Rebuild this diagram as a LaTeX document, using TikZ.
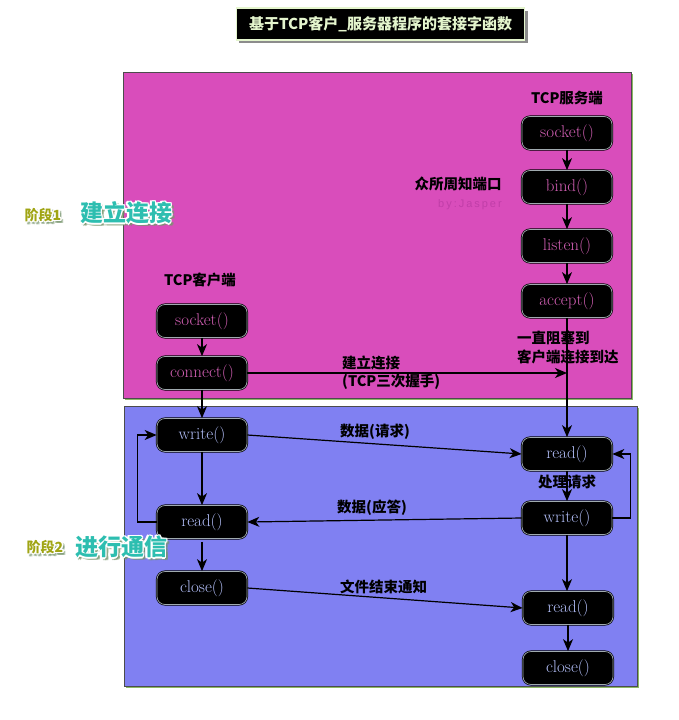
\documentclass[tikz,border=0pt]{standalone}
\usepackage{fontspec}
\newfontfamily\cjk{Noto Sans CJK SC}
\newfontfamily\lsans{Liberation Sans}
\usetikzlibrary{arrows.meta}
\definecolor{pinkbg}{RGB}{217,77,187}
\definecolor{bluebg}{RGB}{128,128,242}
\definecolor{pinktxt}{RGB}{210,95,180}
\definecolor{bluetxt}{RGB}{178,190,248}
\definecolor{phaseteal}{RGB}{45,190,176}
\definecolor{phaseolive}{RGB}{160,165,20}
\definecolor{titletxt}{RGB}{228,245,205}
\definecolor{edgegreen}{RGB}{140,185,100}
\definecolor{innerline}{RGB}{160,170,175}
\definecolor{jasper}{RGB}{192,62,168}
\definecolor{glowshadow}{RGB}{120,150,110}
\tikzset{
  fn/.style={draw=black, line width=0.7pt, double=innerline, double distance=0.7pt,
    fill=black, rounded corners=8pt, minimum width=90pt, minimum height=33pt,
    inner sep=0pt, font=\fontsize{17}{20}\selectfont},
  fntop/.style={fn, text=pinktxt},
  fnbot/.style={fn, text=bluetxt},
  arr/.style={-{Stealth[length=12pt,width=10pt,inset=3.5pt]}, line width=1.2pt, draw=black},
  lbl/.style={font=\cjk\bfseries\fontsize{14.5}{17}\selectfont, text=black, inner sep=0pt},
  region/.style={draw=black!70, line width=0.6pt},
  glowtxt/.style={text=white, inner sep=0pt},
  shadtxt/.style={text=glowshadow, text opacity=0.5, inner sep=0pt},
  smallph/.style={font=\cjk\bfseries\fontsize{14}{16}\selectfont},
  bigph/.style={font=\cjk\bfseries\fontsize{23}{26}\selectfont},
}
\begin{document}
\begin{tikzpicture}[x=1pt,y=-1pt]
\useasboundingbox (0,0) rectangle (679,720);
\fill[white] (0,0) rectangle (679,720);

% title
\fill[black!45] (239,11) rectangle (528,43);
\node[draw=titletxt, line width=1.4pt, fill=black, minimum width=288pt, minimum height=32pt,
  inner sep=0pt, text=titletxt, font=\cjk\bfseries\fontsize{15}{17}\selectfont]
  (title) at (380.5,24) {基于TCP客户\_服务器程序的套接字函数};

% regions
\fill[edgegreen] (125,74) rectangle (633,400);
\fill[pinkbg] (123,72) rectangle (631,398);
\draw[region] (123,72) rectangle (631,398);
\fill[edgegreen] (126,408) rectangle (639,688);
\fill[bluebg] (124,406) rectangle (637,686);
\draw[region] (124,406) rectangle (637,686);

% server nodes
\node[fntop] (ssock) at (567,133) {socket()};
\node[fntop] (sbind) at (567,187) {bind()};
\node[fntop] (slisten) at (567,246) {listen()};
\node[fntop] (saccept) at (567,301) {accept()};
\node[fnbot] (sread) at (567,454) {read()};
\node[fnbot] (swrite) at (567,518) {write()};
\node[fnbot] (sread2) at (568,608) {read()};
\node[fnbot] (sclose) at (568,668) {close()};

% client nodes
\node[fntop] (csock) at (202,321) {socket()};
\node[fntop] (cconn) at (202,373) {connect()};
\node[fnbot] (cwrite) at (202,435) {write()};
\node[fnbot] (cread) at (202,522) {read()};
\node[fnbot] (cclose) at (202,588) {close()};

% vertical arrows
\draw[arr] (ssock) -- (sbind);
\draw[arr] (sbind) -- (slisten);
\draw[arr] (slisten) -- (saccept);
\draw[arr] (saccept) -- (sread);
\draw[arr] (sread) -- (swrite);
\draw[arr] (swrite.south) -- (swrite.south |- sread2.north);
\draw[arr] (sread2) -- (sclose);
\draw[arr] (csock) -- (cconn);
\draw[arr] (cconn) -- (cwrite);
\draw[arr] (cwrite) -- (cread);
\draw[arr, shorten <=3pt] (cread) -- (cclose);

% horizontal arrows
\coordinate (hit) at (saccept.south |- cconn.east);
\draw[arr] (cconn.east) -- (hit);
\draw[arr] (cwrite.east) -- (sread.west);
\draw[arr] (swrite.west) -- (cread.east);
\draw[arr] (cclose.east) -- (sread2.west);

% loops
\draw[arr] (cread.west) -- ++(-19,0) |- (cwrite.west);
\draw[arr] (swrite.east) -- ++(18,0) |- (sread.east);

% labels
\node[lbl] (lserver) at (567,98) {TCP服务端};
\node[lbl] (lport) at (458,184) {众所周知端口};
\node[text=jasper, inner sep=0pt, font=\lsans\fontsize{11}{13}\selectfont\addfontfeatures{LetterSpace=18}] (ljasper) at (470,205) {by:Jasper};
\node[lbl] (lclient) at (200,280) {TCP客户端};
\node[lbl, anchor=west] (lblock1) at (517,338) {一直阻塞到};
\node[lbl, anchor=west] (lblock2) at (517,357) {客户端连接到达};
\node[lbl, anchor=west] (lconn1) at (342,363) {建立连接};
\node[lbl, anchor=west] (lconn2) at (342,382) {(TCP三次握手)};
\node[lbl, anchor=west] (lreq) at (340,432) {数据(请求)};
\node[lbl] (lproc) at (567,482) {处理请求};
\node[lbl, anchor=west] (lresp) at (337,508) {数据(应答)};
\node[lbl, anchor=west] (leof) at (340,587) {文件结束通知};

% phase labels with glow: shadow, white halo, then text
\foreach \dx/\dy [count=\i] in {2/2,3/3,3/1.5,1.5/3} {
  \node[shadtxt, smallph] (sa\i) at (43+\dx,215+\dy) {阶段1};
  \node[shadtxt, bigph] (sb\i) at (126+\dx,213+\dy) {建立连接};
  \node[shadtxt, smallph] (sc\i) at (45+\dx,547+\dy) {阶段2};
  \node[shadtxt, bigph] (sd\i) at (121+\dx,547+\dy) {进行通信};
}
\foreach \dx/\dy [count=\i] in {1.5/0,-1.5/0,0/1.5,0/-1.5,1.1/1.1,-1.1/1.1,1.1/-1.1,-1.1/-1.1} {
  \node[glowtxt, smallph] (ga\i) at (43+\dx,215+\dy) {阶段1};
  \node[glowtxt, bigph] (gb\i) at (126+\dx,213+\dy) {建立连接};
  \node[glowtxt, smallph] (gc\i) at (45+\dx,547+\dy) {阶段2};
  \node[glowtxt, bigph] (gd\i) at (121+\dx,547+\dy) {进行通信};
}
\node[text=phaseolive, inner sep=0pt, smallph] (phase1) at (43,215) {阶段1};
\node[text=phaseteal, inner sep=0pt, bigph] (phase1t) at (126,213) {建立连接};
\node[text=phaseolive, inner sep=0pt, smallph] (phase2) at (45,547) {阶段2};
\node[text=phaseteal, inner sep=0pt, bigph] (phase2t) at (121,547) {进行通信};
\end{tikzpicture}
\end{document}
